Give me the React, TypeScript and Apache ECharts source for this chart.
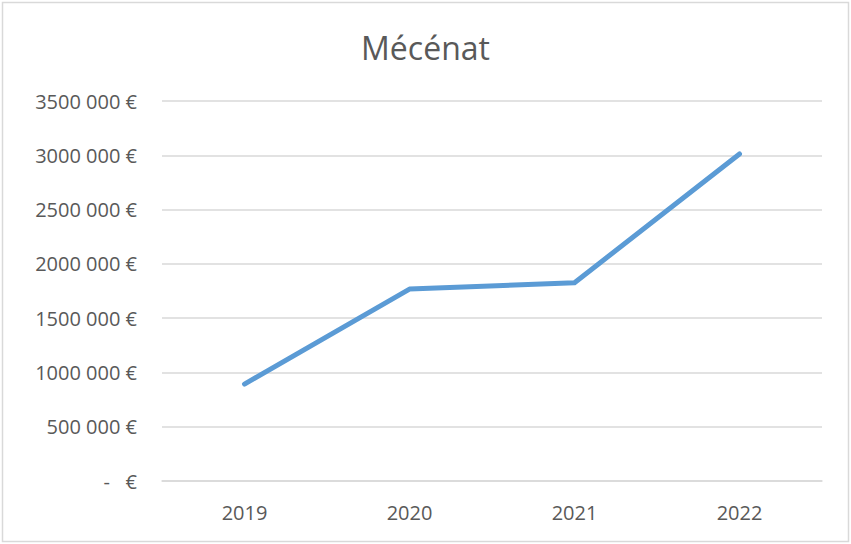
import React, { useEffect, useRef } from "react";
import * as echarts from "echarts";

const title = "Mécénat";
const categories = ["2019", "2020", "2021", "2022"];
const values = [893000, 1768000, 1826000, 3012000];
const yTicks = [0, 500000, 1000000, 1500000, 2000000, 2500000, 3000000, 3500000];
const yTickLabels = ["-   €", "500 000 €", "1000 000 €", "1500 000 €", "2000 000 €", "2500 000 €", "3000 000 €", "3500 000 €"];

export default function App() {
  const ref = useRef<HTMLDivElement>(null);
  useEffect(() => {
    document.body.style.margin = "0";
    const chart = echarts.init(ref.current!, null, { renderer: "svg" });
    const font = "Open Sans, Noto Sans, sans-serif";
    chart.setOption({
      animation: false,
      backgroundColor: "#ffffff",
      title: {
        text: title,
        left: "center",
        top: 26,
        textStyle: { fontFamily: font, fontSize: 32, fontWeight: "normal", color: "#595959" },
      },
      graphic: [
        {
          type: "rect",
          shape: { x: 2.5, y: 2.5, width: 846, height: 539 },
          style: { fill: "none", stroke: "#d9d9d9", lineWidth: 1.5 },
          silent: true,
        },
      ],
      grid: { left: 162, right: 29, top: 101, bottom: 63, containLabel: false },
      xAxis: {
        type: "category",
        data: categories,
        boundaryGap: true,
        axisLine: { show: true, lineStyle: { color: "#d9d9d9", width: 1.5 } },
        axisTick: { show: false },
        axisLabel: { fontFamily: font, fontSize: 20, color: "#595959", margin: 21 },
      },
      yAxis: {
        type: "value",
        min: 0,
        max: 3500000,
        interval: 500000,
        axisLine: { show: false },
        axisTick: { show: false },
        splitLine: { lineStyle: { color: "#d9d9d9", width: 1.5 } },
        axisLabel: {
          fontFamily: font,
          fontSize: 20,
          color: "#595959",
          margin: 25,
          formatter: (v: number) => {
            const i = yTicks.indexOf(v);
            return i >= 0 ? yTickLabels[i] : "";
          },
        },
      },
      series: [
        {
          type: "line",
          data: values,
          symbol: "none",
          lineStyle: { color: "#5b9bd5", width: 5, cap: "round", join: "round" },
        },
      ],
    });
    return () => chart.dispose();
  }, []);
  return <div ref={ref} style={{ width: 851, height: 544 }} />;
}
